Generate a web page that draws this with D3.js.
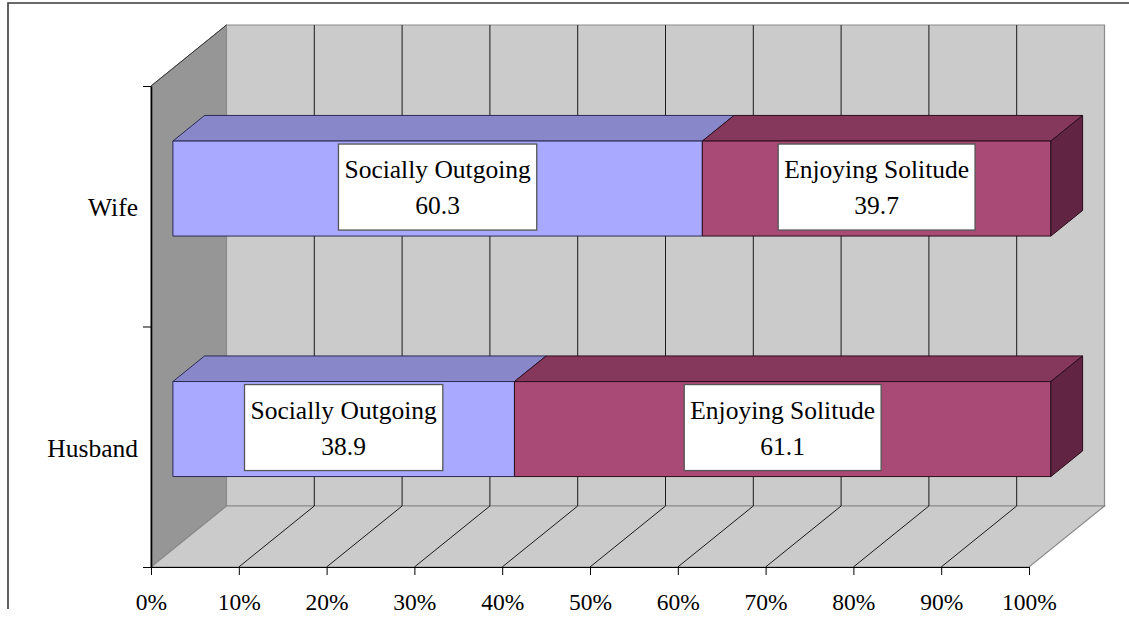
<!DOCTYPE html>
<html>
<head>
<meta charset="utf-8">
<script src="https://cdn.jsdelivr.net/npm/d3@7"></script>
<style>
  html, body { margin: 0; padding: 0; background: #fff; }
  svg { display: block; }
  text { font-family: "Liberation Serif", "Times New Roman", serif; fill: #000; }
</style>
</head>
<body>
<svg id="chart" width="1129" height="619"></svg>
<script>
// Categories, bottom to top
const categories = ["Husband", "Wife"];
const seriesNames = ["Socially Outgoing", "Enjoying Solitude"];
const sociallyOutgoing = [38.9, 60.3];
const enjoyingSolitude = [61.1, 39.7];
const tickValues = [0, 10, 20, 30, 40, 50, 60, 70, 80, 90, 100];

const seriesValues = [sociallyOutgoing, enjoyingSolitude];
const seriesColors = [
  { front: "#a9a9ff", top: "#8787c9", side: "#6a6aa0", edge: "#2b2b55" },
  { front: "#a94975", top: "#86385c", side: "#612443", edge: "#2a0e1c" }
];

const svg = d3.select("#chart");

// Front plane of the plot and 3D depth offset
const plotLeft = 151, plotRight = 1029, plotTop = 86, plotBottom = 567;
const depthX = 75.5, depthY = -61;
const barZ0 = 0.29, barZ1 = 0.71;

const x = d3.scaleLinear().domain([0, 100]).range([plotLeft, plotRight]);
const y = d3.scalePoint().domain(categories).range([plotBottom, plotTop]).padding(0.5);
const yEdges = d3.scaleLinear().domain([0, categories.length]).range([plotBottom, plotTop]);
const barH = y.step() * 0.395;

const P = (px, py, z) => [px + z * depthX, py + z * depthY];
const poly = pts => "M" + pts.map(p => p[0].toFixed(2) + "," + p[1].toFixed(2)).join("L") + "Z";

// Outer frame
svg.append("path")
  .attr("d", "M8,609V3H1129")
  .attr("fill", "none").attr("stroke", "#3a3a3a").attr("stroke-width", 1.6);

// Walls and floor
const wall = svg.append("g");
wall.append("path")
  .attr("d", poly([P(plotLeft, plotTop, 0), P(plotLeft, plotTop, 1), P(plotLeft, plotBottom, 1), P(plotLeft, plotBottom, 0)]))
  .attr("fill", "#969696").attr("stroke", "#6e6e6e").attr("stroke-width", 1);
wall.append("path")
  .attr("d", poly([P(plotLeft, plotTop, 1), P(plotRight, plotTop, 1), P(plotRight, plotBottom, 1), P(plotLeft, plotBottom, 1)]))
  .attr("fill", "#cbcbcb").attr("stroke", "#8a8a8a").attr("stroke-width", 1.2);
wall.append("path")
  .attr("d", poly([P(plotLeft, plotBottom, 0), P(plotLeft, plotBottom, 1), P(plotRight, plotBottom, 1), P(plotRight, plotBottom, 0)]))
  .attr("fill", "#cbcbcb").attr("stroke", "#8a8a8a").attr("stroke-width", 1.2);
// top edge of the side wall
wall.append("line")
  .attr("x1", plotLeft).attr("y1", plotTop)
  .attr("x2", P(plotLeft, plotTop, 1)[0]).attr("y2", P(plotLeft, plotTop, 1)[1])
  .attr("stroke", "#3a3a3a").attr("stroke-width", 1);

// Gridlines on back wall and floor
const inner = tickValues.filter(t => t > 0 && t < 100);
const grid = svg.append("g").attr("stroke", "#1a1a1a").attr("stroke-width", 1);
grid.selectAll("line.back").data(inner).join("line").attr("class", "back")
  .attr("x1", d => P(x(d), plotTop, 1)[0]).attr("y1", P(0, plotTop, 1)[1])
  .attr("x2", d => P(x(d), plotTop, 1)[0]).attr("y2", P(0, plotBottom, 1)[1]);
grid.selectAll("line.floor").data(inner).join("line").attr("class", "floor")
  .attr("x1", d => x(d)).attr("y1", plotBottom)
  .attr("x2", d => P(x(d), plotBottom, 1)[0]).attr("y2", P(0, plotBottom, 1)[1]);

// Axes
const xAxis = svg.append("g").attr("transform", `translate(0,${plotBottom})`)
  .call(d3.axisBottom(x).tickValues(tickValues).tickFormat(d => d + "%").tickSize(8).tickSizeOuter(0).tickPadding(18));
xAxis.select(".domain").attr("stroke", "#000").attr("stroke-width", 1.2);
xAxis.selectAll(".tick line").attr("stroke", "#000");
xAxis.selectAll(".tick text")
  .attr("font-family", "'Liberation Serif', 'Times New Roman', serif")
  .attr("font-size", 23.5).attr("fill", "#000");

const yAxis = svg.append("g").attr("transform", `translate(${plotLeft},0)`)
  .call(d3.axisLeft(yEdges).tickValues(d3.range(categories.length + 1)).tickFormat("").tickSize(8).tickSizeOuter(0));
yAxis.select(".domain").attr("stroke", "#000").attr("stroke-width", 1.6);
yAxis.selectAll(".tick line").attr("stroke", "#000");

svg.append("g").selectAll("text").data(categories).join("text")
  .attr("x", 138).attr("y", d => y(d) + 10)
  .attr("text-anchor", "end").attr("font-size", 25.5)
  .text(d => d);

// Stacked 3D bars
const bars = svg.append("g");
const labels = [];
categories.forEach((cat, ci) => {
  const yc = y(cat);
  const t = yc - barH / 2, b = yc + barH / 2;
  let acc = 0;
  const segs = seriesValues.map((vals, si) => {
    const s = { si, a: acc, b: acc + vals[ci], v: vals[ci] };
    acc += vals[ci];
    return s;
  });
  const g = bars.append("g");
  segs.forEach(s => {
    const c = seriesColors[s.si];
    g.append("path")
      .attr("d", poly([P(x(s.a), t, barZ0), P(x(s.b), t, barZ0), P(x(s.b), t, barZ1), P(x(s.a), t, barZ1)]))
      .attr("fill", c.top).attr("stroke", c.edge).attr("stroke-width", 1);
  });
  segs.forEach(s => {
    const c = seriesColors[s.si];
    g.append("path")
      .attr("d", poly([P(x(s.a), t, barZ0), P(x(s.b), t, barZ0), P(x(s.b), b, barZ0), P(x(s.a), b, barZ0)]))
      .attr("fill", c.front).attr("stroke", c.edge).attr("stroke-width", 1);
    const f0 = P(x(s.a), yc, barZ0), f1 = P(x(s.b), yc, barZ0);
    labels.push({ cx: (f0[0] + f1[0]) / 2, cy: f0[1] - 1.5, name: seriesNames[s.si], v: s.v });
  });
  const last = segs[segs.length - 1];
  const lc = seriesColors[last.si];
  g.append("path")
    .attr("d", poly([P(x(last.b), t, barZ0), P(x(last.b), t, barZ1), P(x(last.b), b, barZ1), P(x(last.b), b, barZ0)]))
    .attr("fill", lc.side).attr("stroke", lc.edge).attr("stroke-width", 1);
});

// Data labels in boxes
const lab = svg.append("g");
labels.forEach(l => {
  const g = lab.append("g");
  const box = g.append("rect");
  const t1 = g.append("text").attr("x", l.cx).attr("y", l.cy - 9)
    .attr("text-anchor", "middle").attr("font-size", 25.5).text(l.name);
  g.append("text").attr("x", l.cx).attr("y", l.cy + 27)
    .attr("text-anchor", "middle").attr("font-size", 25.5).text(l.v.toFixed(1));
  const w = t1.node().getComputedTextLength() + 12;
  const h = 86;
  box.attr("x", l.cx - w / 2).attr("y", l.cy - h / 2).attr("width", w).attr("height", h)
    .attr("fill", "#fff").attr("stroke", "#555").attr("stroke-width", 1.3);
});
</script>
</body>
</html>
